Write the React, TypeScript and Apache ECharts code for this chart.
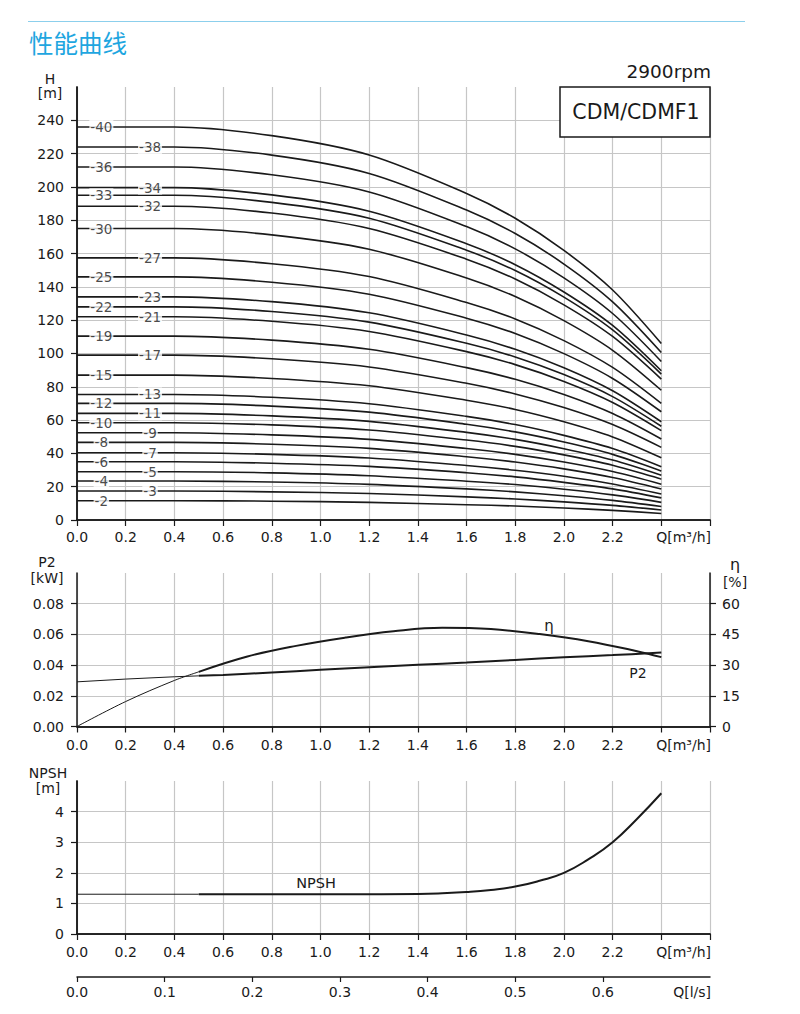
import { useEffect, useRef } from 'react';
import * as echarts from 'echarts';

// ---------- data ----------
const Q_H = [0, 0.4, 0.8, 1.2, 1.6, 1.8, 2.0, 2.2, 2.4];

const H_02 = [11.6, 11.6, 11.3, 10.6, 9.2, 8.4, 7.2, 5.8, 3.9];
const H_03 = [17.4, 17.4, 16.9, 15.9, 13.9, 12.6, 10.9, 8.8, 6.0];
const H_04 = [23.4, 23.4, 22.8, 21.4, 18.7, 16.9, 14.6, 11.8, 8.1];
const H_05 = [29.0, 29.0, 28.3, 26.6, 23.3, 21.3, 18.5, 15.1, 10.6];
const H_06 = [35.0, 35.0, 34.1, 32.2, 28.4, 25.9, 22.6, 18.7, 13.3];
const H_07 = [40.4, 40.4, 39.4, 37.2, 32.7, 29.9, 26.3, 21.6, 15.6];
const H_08 = [46.6, 46.6, 45.5, 43.0, 38.0, 34.8, 30.7, 25.5, 18.6];
const H_09 = [52.4, 52.4, 51.1, 48.4, 42.9, 39.4, 34.8, 29.1, 21.5];
const H_10 = [58.4, 58.4, 57.1, 54.0, 48.0, 44.2, 39.1, 32.9, 24.5];
const H_11 = [64.0, 64.0, 62.5, 59.2, 52.6, 48.4, 42.8, 36.0, 26.9];
const H_12 = [70.0, 70.0, 68.4, 64.8, 57.5, 52.9, 46.8, 39.4, 29.4];
const H_13 = [75.4, 75.4, 73.7, 69.8, 62.2, 57.3, 50.8, 42.9, 32.0];
const H_15 = [87.0, 87.0, 85.0, 80.6, 71.9, 66.4, 59.0, 49.9, 37.4];
const H_17 = [99.0, 99.0, 96.8, 91.9, 82.1, 75.7, 67.5, 57.3, 43.6];
const H_19 = [110.4, 110.4, 108.0, 102.5, 91.5, 84.5, 75.3, 63.9, 48.6];
const H_21 = [122.0, 122.0, 119.3, 113.2, 101.1, 93.3, 83.2, 70.6, 53.7];
const H_22 = [128.0, 128.0, 125.2, 118.8, 106.1, 97.9, 87.3, 74.1, 56.3];
const H_23 = [134.0, 134.0, 131.1, 124.4, 111.1, 102.5, 91.4, 77.6, 59.0];
const H_25 = [146.0, 146.0, 142.8, 135.6, 121.2, 112.0, 99.9, 85.0, 65.0];
const H_27 = [157.4, 157.4, 153.9, 146.2, 130.6, 120.7, 107.7, 91.6, 70.0];
const H_30 = [175.0, 175.0, 171.2, 162.6, 145.3, 134.2, 119.7, 101.9, 77.9];
const H_32 = [188.4, 188.4, 184.3, 175.0, 156.6, 144.7, 129.2, 110.2, 84.6];
const H_33 = [195.0, 195.0, 190.7, 181.2, 162.0, 149.8, 133.8, 114.1, 87.6];
const H_34 = [199.6, 199.6, 195.2, 185.4, 165.9, 153.3, 136.9, 116.8, 89.6];
const H_36 = [212.0, 212.0, 207.3, 197.0, 176.2, 162.8, 145.4, 124.0, 95.2];
const H_38 = [224.0, 224.0, 219.1, 208.1, 186.1, 172.0, 153.7, 131.0, 100.6];
const H_40 = [236.0, 236.0, 230.8, 219.2, 196.1, 181.2, 161.9, 138.1, 106.0];

const H_CURVES: [string, number[]][] = [
  ['-2', H_02], ['-3', H_03], ['-4', H_04], ['-5', H_05], ['-6', H_06],
  ['-7', H_07], ['-8', H_08], ['-9', H_09], ['-10', H_10], ['-11', H_11],
  ['-12', H_12], ['-13', H_13], ['-15', H_15], ['-17', H_17], ['-19', H_19],
  ['-21', H_21], ['-22', H_22], ['-23', H_23], ['-25', H_25], ['-27', H_27],
  ['-30', H_30], ['-32', H_32], ['-33', H_33], ['-34', H_34], ['-36', H_36],
  ['-38', H_38], ['-40', H_40],
];
// labels placed near the axis (others sit further right)
const NEAR_LABELS = ['-2', '-4', '-6', '-8', '-10', '-12', '-15', '-19', '-22', '-25', '-30', '-33', '-36', '-40'];

// P2 [kW] and efficiency [%]
const Q_THIN = [0, 0.2, 0.4, 0.5];
const P2_THIN = [0.0291, 0.0309, 0.0324, 0.033];
const ETA_THIN = [0, 12.2, 22.5, 26.7];
const Q_THICK = [0.5, 0.6, 0.8, 1.0, 1.2, 1.4, 1.6, 1.8, 2.0, 2.2, 2.4];
const P2_THICK = [0.033, 0.0336, 0.0352, 0.0369, 0.0386, 0.0402, 0.0417, 0.0434, 0.0451, 0.0465, 0.0482];
const Q_ETA = [0.5, 0.7, 0.9, 1.1, 1.3, 1.5, 1.7, 1.9, 2.1, 2.3, 2.4];
const ETA_THICK = [26.7, 34.2, 39.4, 43.4, 46.5, 48.2, 47.6, 45.2, 41.7, 36.8, 33.9];

// NPSH [m]
const Q_NPSH_THIN = [0, 0.5];
const NPSH_THIN = [1.3, 1.3];
const Q_NPSH = [0.5, 0.8, 1.1, 1.4, 1.5, 1.6, 1.7, 1.8, 1.9, 2.0, 2.1, 2.2, 2.3, 2.4];
const NPSH_THICK = [1.3, 1.3, 1.3, 1.31, 1.33, 1.37, 1.44, 1.55, 1.74, 2.0, 2.44, 3.0, 3.76, 4.6];

// tick labels
const Q_LABELS = [0, 0.2, 0.4, 0.6, 0.8, 1.0, 1.2, 1.4, 1.6, 1.8, 2.0, 2.2];
const H_LABELS = [0, 20, 40, 60, 80, 100, 120, 140, 160, 180, 200, 220, 240];
const P2_LABELS = [0, 0.02, 0.04, 0.06, 0.08];
const ETA_LABELS = [0, 15, 30, 45, 60];
const NPSH_LABELS = [0, 1, 2, 3, 4];
const QLS_LABELS = [0, 0.1, 0.2, 0.3, 0.4, 0.5, 0.6];

// ---------- style ----------
const FONT = 'DejaVu Sans';
const INK = '#1a1a1a';
const GRIDLINE = '#c6c6c6';
const LABEL_FS = 14;

const zip = (xs: number[], ys: number[]) => xs.map((x, i) => [x, ys[i]]);

function mainX(gridIndex: number, margin: number) {
  return {
    type: 'value', gridIndex, min: 0, max: 2.6, interval: 0.2,
    axisLine: { show: true, onZero: false, lineStyle: { color: INK, width: 1.5 } },
    axisTick: { show: true, length: 6, lineStyle: { color: INK, width: 1.2 } },
    axisLabel: {
      customValues: Q_LABELS, formatter: (v: number) => v.toFixed(1), margin,
      fontFamily: FONT, fontSize: LABEL_FS, color: INK,
    },
    splitLine: { show: true, lineStyle: { color: GRIDLINE, width: 1.2 } },
  };
}
function borderX(gridIndex: number) {
  return {
    type: 'value', gridIndex, position: 'top', min: 0, max: 2.6, z: 5,
    axisLine: { show: true, lineStyle: { color: INK, width: 1.5 } },
    axisTick: { show: false }, axisLabel: { show: false }, splitLine: { show: false },
  };
}
function borderY(gridIndex: number, max: number) {
  return {
    type: 'value', gridIndex, position: 'right', min: 0, max, z: 5,
    axisLine: { show: true, lineStyle: { color: INK, width: 1.5 } },
    axisTick: { show: false }, axisLabel: { show: false }, splitLine: { show: false },
  };
}
function valueY(gridIndex: number, max: number, interval: number, labels: number[], digits: number, position = 'left', split = true) {
  return {
    type: 'value', gridIndex, position, min: 0, max, interval,
    axisLine: { show: true, onZero: false, lineStyle: { color: INK, width: 1.5 } },
    axisTick: { show: true, length: 6, customValues: labels, lineStyle: { color: INK, width: 1.2 } },
    axisLabel: {
      customValues: labels, formatter: (v: number) => v.toFixed(digits),
      margin: position === 'left' ? 13 : 12,
      fontFamily: FONT, fontSize: LABEL_FS, color: INK,
    },
    splitLine: { show: split, lineStyle: { color: GRIDLINE, width: 1.2 } },
  };
}

function lineSeries(xi: number, yi: number, data: number[][], width: number, smooth: number | boolean = 0.35) {
  return {
    type: 'line', xAxisIndex: xi, yAxisIndex: yi, data, showSymbol: false, symbol: 'none',
    smooth, lineStyle: { color: INK, width }, z: 3, silent: true,
  };
}

function txt(x: number, y: number, text: string, opts: any = {}) {
  return {
    type: 'text', x, y, z: 20,
    style: {
      text, fill: INK, fontFamily: FONT, fontSize: LABEL_FS,
      align: 'center', verticalAlign: 'middle', ...opts,
    },
  };
}

function buildOption() {
  const series: any[] = [];
  H_CURVES.forEach(([, vals]) => series.push(lineSeries(0, 0, zip(Q_H, vals), 1.6, 0.3)));
  series.push({
    type: 'scatter', xAxisIndex: 0, yAxisIndex: 0, symbolSize: 1, z: 6, silent: true,
    itemStyle: { color: 'rgba(0,0,0,0)' },
    data: H_CURVES.map(([name, vals]) => ({
      name, value: [NEAR_LABELS.includes(name) ? 0.1 : 0.3, vals[0]],
    })),
    label: {
      show: true, position: 'inside', formatter: '{b}', color: INK,
      fontFamily: FONT, fontSize: 13.5, backgroundColor: '#fff', padding: [0, 1, 0, 1],
    },
  });
  series.push(lineSeries(2, 2, zip(Q_THIN, P2_THIN), 1, false));
  series.push(lineSeries(2, 2, zip(Q_THICK, P2_THICK), 2));
  series.push(lineSeries(2, 3, zip(Q_THIN, ETA_THIN), 1));
  series.push(lineSeries(2, 3, zip(Q_ETA, ETA_THICK), 2, 0.4));
  series.push(lineSeries(4, 4, zip(Q_NPSH_THIN, NPSH_THIN), 1, false));
  series.push(lineSeries(4, 4, zip(Q_NPSH, NPSH_THICK), 2, 0.5));

  return {
    animation: false,
    backgroundColor: '#fff',
    grid: [
      { left: 77, top: 87, width: 633, height: 433 },
      { left: 77, top: 573, width: 633, height: 153.5 },
      { left: 77, top: 781, width: 633, height: 153 },
      { left: 77, top: 976, width: 633, height: 1 },
    ],
    xAxis: [
      mainX(0, 10), borderX(0),
      mainX(1, 11), borderX(1),
      mainX(2, 11), borderX(2),
      {
        type: 'value', gridIndex: 3, min: 0, max: 2.6 / 3.6, interval: 0.1,
        axisLine: { show: true, onZero: false, lineStyle: { color: INK, width: 1.5 } },
        axisTick: { show: true, length: 5, customValues: QLS_LABELS, lineStyle: { color: INK, width: 1.2 } },
        axisLabel: {
          customValues: QLS_LABELS, formatter: (v: number) => v.toFixed(1), margin: 8,
          fontFamily: FONT, fontSize: LABEL_FS, color: INK,
        },
        splitLine: { show: false },
      },
    ],
    yAxis: [
      valueY(0, 260, 20, H_LABELS, 0), borderY(0, 260),
      valueY(1, 0.1, 0.02, P2_LABELS, 2), valueY(1, 75, 15, ETA_LABELS, 0, 'right', false),
      valueY(2, 5, 1, NPSH_LABELS, 0), borderY(2, 5),
      { type: 'value', gridIndex: 3, show: false, min: 0, max: 1 },
    ],
    series,
    graphic: [
      { type: 'line', z: 20, shape: { x1: 28, y1: 21.5, x2: 745, y2: 21.5 }, style: { stroke: '#8ccfec', lineWidth: 1 } },
      txt(29, 42, '性能曲线', { align: 'left', fontFamily: 'Noto Sans CJK SC', fontSize: 24.5, fill: '#1ea6e0' }),
      txt(711, 71, '2900rpm', { align: 'right', fontSize: 18.5 }),
      { type: 'rect', z: 19, shape: { x: 560, y: 87, width: 150, height: 50 }, style: { fill: '#fff', stroke: INK, lineWidth: 1.5 } },
      txt(636, 112, 'CDM/CDMF1', { fontSize: 20.5 }),
      txt(50, 78.5, 'H'),
      txt(50, 93, '[m]'),
      txt(47, 562, 'P2'),
      txt(47, 578, '[kW]'),
      txt(735, 564, 'η', { fontSize: 16 }),
      txt(735, 582, '[%]'),
      txt(48, 773, 'NPSH'),
      txt(48, 788, '[m]'),
      txt(711, 537, 'Q[m³/h]', { align: 'right' }),
      txt(711, 745, 'Q[m³/h]', { align: 'right' }),
      txt(711, 952, 'Q[m³/h]', { align: 'right' }),
      txt(711, 992, 'Q[l/s]', { align: 'right' }),
      txt(549, 626, 'η', { fontSize: 15 }),
      txt(638, 673, 'P2', { fontSize: 14 }),
      txt(316, 883, 'NPSH', { fontSize: 14.5 }),
    ],
  };
}

export default function App() {
  const ref = useRef<HTMLDivElement>(null);
  useEffect(() => {
    const chart = echarts.init(ref.current!, undefined, { renderer: 'svg' });
    chart.setOption(buildOption() as any);
    return () => chart.dispose();
  }, []);
  return (
    <div
      ref={ref}
      style={{ position: 'absolute', left: 0, top: 0, width: 800, height: 1014, background: '#fff' }}
    />
  );
}
